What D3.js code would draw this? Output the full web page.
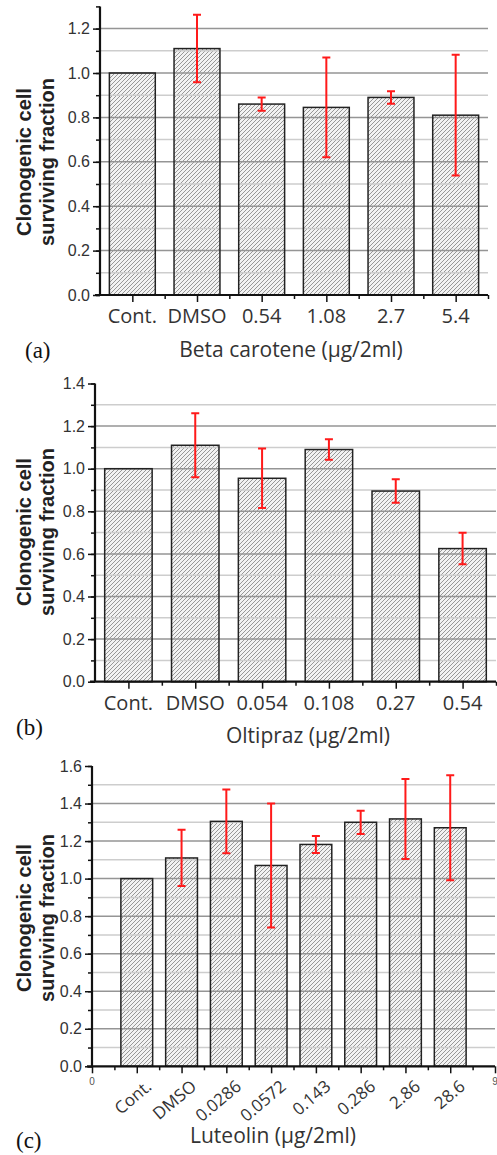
<!DOCTYPE html>
<html>
<head>
<meta charset="utf-8">
<script src="https://cdn.jsdelivr.net/npm/d3@7"></script>
<style>
  body { margin: 0; background: #fff; }
  svg { display: block; }
</style>
</head>
<body>
<div id="chart"></div>
<script>
// panel (a) Beta carotene
const catsA = ["Cont.", "DMSO", "0.54", "1.08", "2.7", "5.4"];
const meanA = [1.0, 1.11, 0.86, 0.845, 0.89, 0.81];
const errA = [0, 0.152, 0.03, 0.225, 0.028, 0.272];

// panel (b) Oltipraz
const catsB = ["Cont.", "DMSO", "0.054", "0.108", "0.27", "0.54"];
const meanB = [1.0, 1.11, 0.955, 1.09, 0.895, 0.625];
const errB = [0, 0.15, 0.14, 0.048, 0.055, 0.074];

// panel (c) Luteolin
const catsC = ["Cont.", "DMSO", "0.0286", "0.0572", "0.143", "0.286", "2.86", "28.6"];
const meanC = [1.0, 1.11, 1.305, 1.07, 1.182, 1.30, 1.318, 1.271];
const errC = [0, 0.15, 0.17, 0.33, 0.045, 0.062, 0.213, 0.28];

const yTitle = ["Clonogenic cell", "surviving fraction"];

const svg = d3.select("#chart").append("svg")
    .attr("width", 497)
    .attr("height", 1155);

svg.append("rect").attr("width", 497).attr("height", 1155).attr("fill", "#fff");

// hatch fill for the bars
const defs = svg.append("defs");
const pat = defs.append("pattern")
    .attr("id", "hatch")
    .attr("patternUnits", "userSpaceOnUse")
    .attr("width", 4).attr("height", 4);
pat.append("rect").attr("width", 4).attr("height", 4).attr("fill", "#f2f2f2");
pat.append("path")
    .attr("d", "M-1,1 l2,-2 M0,4 l4,-4 M3,5 l2,-2")
    .attr("stroke", "#8c8c8c")
    .attr("stroke-width", 0.9);

function drawPanel(p) {
    const g = svg.append("g");

    const y = d3.scaleLinear().domain([0, p.yMax]).range([p.zero, p.top]);
    const x = d3.scaleLinear().domain(p.xDomain).range([p.x0, p.x1]);

    // bars
    g.selectAll("rect.bar")
        .data(p.means)
        .enter()
        .append("rect")
        .attr("class", "bar")
        .attr("x", (d, i) => x(i + 1 - 0.355))
        .attr("width", x(1.71) - x(1))
        .attr("y", d => y(d))
        .attr("height", d => y(0) - y(d))
        .attr("fill", "url(#hatch)");

    // grid lines over the bars
    const gridVals = d3.range(1, Math.round(p.gridMax * 10) + 1).map(v => v / 10);
    g.selectAll("line.grid")
        .data(gridVals)
        .enter()
        .append("line")
        .attr("x1", p.x0).attr("x2", p.x1)
        .attr("y1", d => y(d)).attr("y2", d => y(d))
        .attr("stroke", (d, i) => (i % 2 === 1 ? "#959595" : "#cdcdcd"))
        .attr("stroke-width", 1.5);

    // bar outlines
    g.selectAll("rect.outline")
        .data(p.means)
        .enter()
        .append("rect")
        .attr("x", (d, i) => x(i + 1 - 0.355))
        .attr("width", x(1.71) - x(1))
        .attr("y", d => y(d))
        .attr("height", d => y(0) - y(d))
        .attr("fill", "none")
        .attr("stroke", "#222")
        .attr("stroke-width", 1.5);

    // y axis: major ticks with labels, minor ticks
    const yMajor = d3.range(0, Math.floor(p.yMax * 5 + 1e-9) + 1).map(v => v / 5);
    const yMinor = d3.range(0, Math.floor(p.yMax * 10 + 1e-9) + 1).map(v => v / 10);
    g.append("g")
        .attr("transform", `translate(${p.x0},0)`)
        .call(d3.axisLeft(y).tickValues(yMinor).tickSize(4).tickFormat(""))
        .call(a => a.select(".domain").remove())
        .selectAll("line").attr("stroke", "#111").attr("stroke-width", 1.5);
    const ya = g.append("g")
        .attr("transform", `translate(${p.x0},0)`)
        .call(d3.axisLeft(y).tickValues(yMajor).tickSize(7).tickPadding(3).tickFormat(d3.format(".1f")));
    ya.select(".domain").attr("stroke", "#111").attr("stroke-width", 2.2)
        .attr("d", `M0,${p.zero}V${p.top}`);
    ya.selectAll("line").attr("stroke", "#111").attr("stroke-width", 1.5);
    ya.selectAll("text")
        .attr("font-family", "Liberation Sans, Arial, sans-serif")
        .attr("font-size", 16)
        .attr("fill", "#333");

    // x axis
    g.append("g")
        .attr("transform", `translate(0,${p.zero})`)
        .call(d3.axisBottom(x).tickValues(p.xMinor).tickSize(4).tickFormat(""))
        .call(a => a.select(".domain").remove())
        .selectAll("line").attr("stroke", "#111").attr("stroke-width", 1.5);
    const xa = g.append("g")
        .attr("transform", `translate(0,${p.zero})`)
        .call(d3.axisBottom(x).tickValues(p.xMajor).tickSize(7).tickFormat(""));
    xa.select(".domain").attr("stroke", "#111").attr("stroke-width", 2.2)
        .attr("d", `M${p.x0 - 5},0H${p.x1}`);
    xa.selectAll("line").attr("stroke", "#111").attr("stroke-width", 1.5);

    // category labels
    if (p.rotate) {
        g.selectAll("text.cat")
            .data(p.cats)
            .enter()
            .append("text")
            .attr("transform", (d, i) => `translate(${x(i + 1) + 16},${p.zero + 22}) rotate(-40)`)
            .attr("text-anchor", "end")
            .attr("font-family", "Open Sans, sans-serif")
            .attr("font-size", 17)
            .attr("fill", "#333")
            .text(d => d);
        // end labels of the numeric axis
        g.selectAll("text.end")
            .data(p.xDomain)
            .enter()
            .append("text")
            .attr("x", d => x(d))
            .attr("y", p.zero + 19)
            .attr("text-anchor", "middle")
            .attr("font-family", "Liberation Sans, Arial, sans-serif")
            .attr("font-size", 10)
            .attr("fill", "#555")
            .text(d => d);
    } else {
        g.selectAll("text.cat")
            .data(p.cats)
            .enter()
            .append("text")
            .attr("x", (d, i) => x(i + 1))
            .attr("y", p.zero + 28)
            .attr("text-anchor", "middle")
            .attr("font-family", "Open Sans, sans-serif")
            .attr("font-size", 20)
            .attr("fill", "#333")
            .text(d => d);
    }

    // error bars
    const eb = p.means.map((m, i) => ({ i: i, m: m, e: p.errs[i] })).filter(d => d.e > 0);
    const eg = g.append("g").attr("stroke", "#ff1a1a").attr("stroke-width", 2).attr("fill", "none");
    eg.selectAll("path")
        .data(eb)
        .enter()
        .append("path")
        .attr("d", d => {
            const cx = x(d.i + 1), t = y(d.m + d.e), b = y(d.m - d.e);
            return `M${cx},${t}V${b}M${cx - 4},${t}H${cx + 4}M${cx - 4},${b}H${cx + 4}`;
        });

    // y title, two bold lines
    g.selectAll("text.ytitle")
        .data(yTitle)
        .enter()
        .append("text")
        .attr("transform", (d, i) => `translate(${31 + i * 23},${p.titleY}) rotate(-90)`)
        .attr("text-anchor", "middle")
        .attr("font-family", "Liberation Sans, Arial, sans-serif")
        .attr("font-weight", "bold")
        .attr("font-size", 20)
        .attr("fill", "#222")
        .text(d => d);

    // x title
    g.append("text")
        .attr("x", p.xTitleX)
        .attr("y", p.xTitleY)
        .attr("text-anchor", "middle")
        .attr("font-family", "Open Sans, sans-serif")
        .attr("font-size", 21)
        .attr("fill", "#333")
        .text(p.xTitle);

    // panel letter
    g.append("text")
        .attr("x", p.letterX)
        .attr("y", p.letterY)
        .attr("font-family", "Liberation Serif, Times New Roman, serif")
        .attr("font-size", 23)
        .attr("fill", "#111")
        .text(p.letter);
}

drawPanel({
    cats: catsA, means: meanA, errs: errA,
    yMax: 1.3, gridMax: 1.2, zero: 295, top: 6.4,
    x0: 100, x1: 488, xDomain: [0.5, 6.5],
    xMajor: d3.range(1, 7), xMinor: d3.range(1.5, 7, 1),
    titleY: 162, xTitle: "Beta carotene (μg/2ml)", xTitleX: 291, xTitleY: 357,
    letter: "(a)", letterX: 25, letterY: 358
});

drawPanel({
    cats: catsB, means: meanB, errs: errB,
    yMax: 1.4, gridMax: 1.3, zero: 681.7, top: 383.5,
    x0: 95, x1: 496, xDomain: [0.5, 6.5],
    xMajor: d3.range(1, 7), xMinor: d3.range(1.5, 7, 1),
    titleY: 532, xTitle: "Oltipraz (μg/2ml)", xTitleX: 308, xTitleY: 743,
    letter: "(b)", letterX: 16, letterY: 735
});

drawPanel({
    cats: catsC, means: meanC, errs: errC, rotate: true,
    yMax: 1.6, gridMax: 1.5, zero: 1066.3, top: 766,
    x0: 92, x1: 495, xDomain: [0, 9],
    xMajor: d3.range(0, 10), xMinor: d3.range(0.5, 9, 1),
    titleY: 918, xTitle: "Luteolin (μg/2ml)", xTitleX: 273, xTitleY: 1143,
    letter: "(c)", letterX: 16, letterY: 1148
});
</script>
</body>
</html>
